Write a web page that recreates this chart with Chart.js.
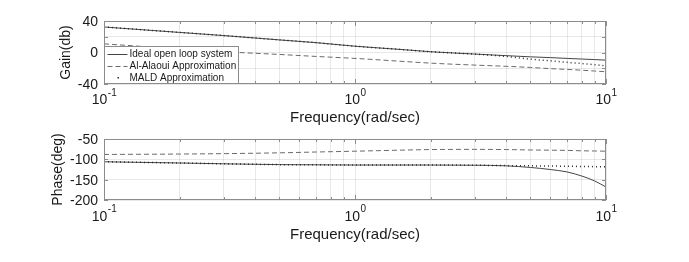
<!DOCTYPE html>
<html>
<head>
<meta charset="utf-8">
<script src="https://cdn.jsdelivr.net/npm/chart.js@4.4.0/dist/chart.umd.min.js"></script>
<style>
  html, body { margin: 0; padding: 0; background: #fff; }
  #wrap { position: relative; width: 689px; height: 262px; }
  canvas { position: absolute; left: 0; }
  #gain  { top: 0; }
  #phase { top: 130px; }
</style>
</head>
<body>
<div id="wrap">
  <canvas id="gain" width="689" height="130" style="width:689px;height:130px"></canvas>
  <canvas id="phase" width="689" height="132" style="width:689px;height:132px"></canvas>
</div>
<script>
// ── Data ─────────────────────────────────────────────────────────────────────
const freqs        = [0.1, 0.2, 0.3, 0.5, 0.7, 1, 1.5, 2, 3, 4, 5, 6, 7, 8, 9, 10];

const gainIdeal    = [32.4, 25.5, 21.5, 16, 12.5, 8, 4, 1, -2, -4, -5.5, -6.5, -7.5, -8.3, -9, -9.7];
const gainAlaoui   = [11, 4.5, 1, -2.5, -5, -7.5, -11, -13.5, -16, -17.5, -19, -20.5, -21.5, -22.5, -23.5, -24.5];
const gainMald     = [32.4, 25.5, 21.5, 16, 12.5, 8, 4, 1, -2, -5, -8.5, -10.5, -12.5, -14, -15.5, -17];

const phaseIdeal   = [-106, -109, -111, -113, -113.5, -114, -114, -114, -114.5, -116, -120, -125, -131, -141, -153, -168];
const phaseAlaoui  = [-88, -87, -86, -84, -82, -80, -77.5, -76, -75.5, -76, -77, -77.5, -78, -79, -79.5, -80];
const phaseMald    = [-106, -109, -111, -113, -113.5, -114, -114, -114, -114.5, -115.5, -116, -116.5, -117, -117.5, -118, -118.5];

const xTickValues  = [0.1, 0.2, 0.3, 0.4, 0.5, 0.6, 0.7, 0.8, 0.9, 1, 2, 3, 4, 5, 6, 7, 8, 9, 10];
const xMajorTicks  = [0.1, 1, 10];
const xMajorExp    = ['-1', '0', '1'];
const gainTicks    = [-40, -20, 0, 20, 40];
const gainLabels   = [-40, 0, 40];
const phaseTicks   = [-200, -150, -100, -50];
const phaseLabels  = [-200, -150, -100, -50];

const seriesNames  = ['Ideal open loop system', 'Al-Alaoui Approximation', 'MALD Approximation'];

// ── Styling ──────────────────────────────────────────────────────────────────
const FONT      = "'Liberation Sans', Arial, sans-serif";
const TXT       = '#1a1a1a';
const FRAME     = '#8c8c8c';
const GRID      = 'rgba(0,0,0,0.09)';
const LINE_STYLES = [
  { color: '#454545', dash: [],     width: 1   },
  { color: '#6a6a6a', dash: [5, 3], width: 1   },
  { color: '#2a2a2a', dash: [1, 3], width: 1.5 },
];

function pts(ys) {
  return freqs.map((f, i) => ({ x: f, y: ys[i] }));
}

// draws frame, inward ticks, tick labels, titles and (optionally) legend
const matlabAxes = {
  id: 'matlabAxes',
  afterDraw(chart, args, opts) {
    const ctx = chart.ctx;
    const { left, right, top, bottom } = chart.chartArea;
    const xs = chart.scales.x, ys = chart.scales.y;
    ctx.save();

    // frame
    ctx.strokeStyle = FRAME;
    ctx.lineWidth = 1;
    ctx.strokeRect(left + 0.5, top + 0.5, right - left - 1, bottom - top - 1);

    // x ticks (top + bottom, inward)
    ctx.beginPath();
    xTickValues.forEach(v => {
      const px = Math.round(xs.getPixelForValue(v)) + 0.5;
      const len = xMajorTicks.includes(v) ? 5 : 3;
      ctx.moveTo(px, bottom); ctx.lineTo(px, bottom - len);
      ctx.moveTo(px, top);    ctx.lineTo(px, top + len);
    });
    // y ticks (left + right, inward)
    opts.yTicks.forEach(v => {
      const py = Math.round(ys.getPixelForValue(v)) + 0.5;
      ctx.moveTo(left, py);  ctx.lineTo(left + 4, py);
      ctx.moveTo(right, py); ctx.lineTo(right - 4, py);
    });
    ctx.stroke();

    ctx.fillStyle = TXT;

    // y tick labels
    ctx.font = '14px ' + FONT;
    ctx.textAlign = 'right';
    ctx.textBaseline = 'middle';
    opts.yLabels.forEach(v => {
      ctx.fillText(String(v), left - 6, ys.getPixelForValue(v) + 1);
    });

    // x tick labels  10^n
    ctx.textBaseline = 'middle';
    xMajorTicks.forEach((v, i) => {
      const px = xs.getPixelForValue(v);
      ctx.font = '14px ' + FONT;
      const wBase = ctx.measureText('10').width;
      ctx.font = '10px ' + FONT;
      const wExp = ctx.measureText(xMajorExp[i]).width;
      const x0 = px - (wBase + wExp) / 2;
      ctx.textAlign = 'left';
      ctx.font = '14px ' + FONT;
      ctx.fillText('10', x0, opts.xLabelY);
      ctx.font = '10px ' + FONT;
      ctx.fillText(xMajorExp[i], x0 + wBase + 0.5, opts.xLabelY - 7);
    });

    // x title
    ctx.font = '15px ' + FONT;
    ctx.textAlign = 'center';
    ctx.fillText('Frequency(rad/sec)', (left + right) / 2, opts.xTitleY);

    // y title
    ctx.save();
    ctx.translate(opts.yTitleX, (top + bottom) / 2);
    ctx.rotate(-Math.PI / 2);
    ctx.font = '14px ' + FONT;
    ctx.textAlign = 'center';
    ctx.textBaseline = 'middle';
    ctx.fillText(opts.yTitle, 0, 0);
    ctx.restore();

    // legend box in lower-left corner
    if (opts.legend) {
      const bx = left + 0.5, by = bottom - 37.5, bw = 134, bh = 37;
      ctx.fillStyle = '#fff';
      ctx.fillRect(bx, by, bw, bh);
      ctx.strokeStyle = FRAME;
      ctx.strokeRect(bx, by, bw, bh);
      ctx.font = '10px ' + FONT;
      ctx.textAlign = 'left';
      ctx.textBaseline = 'middle';
      seriesNames.forEach((name, i) => {
        const cy = by + 7 + i * 12;
        const st = LINE_STYLES[i];
        ctx.strokeStyle = st.color;
        ctx.lineWidth = st.width;
        if (i === 2) {
          ctx.fillStyle = st.color;
          ctx.fillRect(bx + 13, cy - 0.5, 1.5, 1.5);
        } else {
          ctx.setLineDash(st.dash);
          ctx.beginPath();
          ctx.moveTo(bx + 3, Math.round(cy) + 0.5);
          ctx.lineTo(bx + 23, Math.round(cy) + 0.5);
          ctx.stroke();
          ctx.setLineDash([]);
        }
        ctx.fillStyle = TXT;
        ctx.fillText(name, bx + 25, cy + 0.5);
      });
    }
    ctx.restore();
  }
};

function makeChart(id, series, yMin, yMax, yStep, pad, axOpts) {
  const datasets = series.map((ys, i) => ({
    label: seriesNames[i],
    data: pts(ys),
    borderColor: LINE_STYLES[i].color,
    borderDash: LINE_STYLES[i].dash,
    borderWidth: LINE_STYLES[i].width,
    pointRadius: 0,
    cubicInterpolationMode: 'monotone',
    fill: false,
    order: 2 - i,
  }));
  return new Chart(document.getElementById(id), {
    type: 'line',
    data: { datasets },
    options: {
      responsive: false,
      animation: false,
      devicePixelRatio: 1,
      layout: { padding: pad },
      plugins: {
        legend: { display: false },
        tooltip: { enabled: false },
        matlabAxes: axOpts,
      },
      scales: {
        x: {
          type: 'logarithmic',
          min: 0.1, max: 10,
          afterBuildTicks: s => { s.ticks = xTickValues.map(v => ({ value: v })); },
          afterFit: s => { s.height = 0; },
          ticks: { display: false },
          grid: { color: GRID, drawTicks: false, lineWidth: 1 },
          border: { display: false },
        },
        y: {
          min: yMin, max: yMax,
          ticks: { display: false, stepSize: yStep },
          afterFit: s => { s.width = 0; },
          grid: { color: GRID, drawTicks: false },
          border: { display: false },
        }
      }
    },
    plugins: [matlabAxes]
  });
}

makeChart('gain', [gainIdeal, gainAlaoui, gainMald], -40, 40, 20,
  { left: 104, right: 83, top: 21, bottom: 46 },
  { yTicks: gainTicks, yLabels: gainLabels, yTitle: 'Gain(db)', yTitleX: 66,
    xLabelY: 100, xTitleY: 117.5, legend: true });

makeChart('phase', [phaseIdeal, phaseAlaoui, phaseMald], -200, -50, 50,
  { left: 104, right: 83, top: 9, bottom: 62 },
  { yTicks: phaseTicks, yLabels: phaseLabels, yTitle: 'Phase(deg)', yTitleX: 58.5,
    xLabelY: 86.7, xTitleY: 104.5, legend: false });
</script>
</body>
</html>
